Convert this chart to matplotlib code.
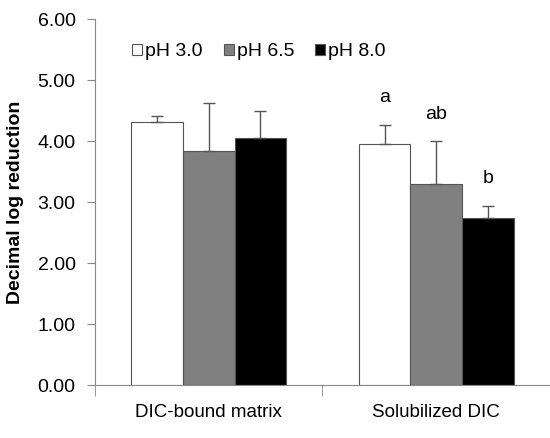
import numpy as np
import matplotlib.pyplot as plt

plt.rcParams['font.family'] = ['Liberation Sans', 'DejaVu Sans']

# datos
grupos = ['DIC-bound matrix', 'Solubilized DIC']
series = ['pH 3.0', 'pH 6.5', 'pH 8.0']
ph30 = [4.31, 3.95]
ph65 = [3.84, 3.30]
ph80 = [4.05, 2.74]
err30 = [0.10, 0.32]
err65 = [0.79, 0.70]
err80 = [0.45, 0.20]
letras = ['a', 'ab', 'b']

valores = [ph30, ph65, ph80]
errores = [err30, err65, err80]
colores = ['white', '#808080', 'black']

fig = plt.figure(figsize=(5.5, 4.38), dpi=100)
ax = fig.add_axes([0.1727, 0.121, 0.8273, 0.8356])

x = np.arange(len(grupos))
w = 0.227
for i in range(3):
    pos = x + (i - 1) * w
    ax.bar(pos, valores[i], w, color=colores[i], edgecolor='#555555',
           linewidth=0.8, label=series[i], zorder=2)
    ax.errorbar(pos, valores[i], yerr=[np.zeros(2), errores[i]], fmt='none',
                ecolor='#555555', elinewidth=1, capsize=4, capthick=1, zorder=3)

# letras de significancia sobre el segundo grupo
for i in range(3):
    top = valores[i][1] + errores[i][1]
    ax.text(1 + (i - 1) * w, top + 0.3, letras[i], ha='center', va='bottom', fontsize=14)

ax.set_xlim(-0.5, 1.5)
ax.set_ylim(0, 6)
ax.set_yticks(np.arange(0, 7, 1))
ax.set_yticklabels(['%.2f' % v for v in np.arange(0, 7, 1)], fontsize=14)
ax.set_xticks(x)
ax.set_xticklabels(grupos, fontsize=13.5)
ax.set_xticks([-0.5, 0.5, 1.5], minor=True)
ax.tick_params(axis='x', which='major', length=0, pad=14)
ax.tick_params(axis='x', which='minor', length=8, color='#888888')
ax.tick_params(axis='y', length=6, color='#888888', pad=8)
ax.set_ylabel('Decimal log reduction', fontsize=14, fontweight='bold', labelpad=10)

for s in ['top', 'right']:
    ax.spines[s].set_visible(False)
for s in ['left', 'bottom']:
    ax.spines[s].set_color('#888888')

ax.legend(loc='upper left', bbox_to_anchor=(0.065, 0.955), ncol=3, frameon=False,
          fontsize=14, handlelength=0.5, handleheight=0.5, handletextpad=0.15,
          columnspacing=1.1, borderaxespad=0)

fig.savefig('out.png', dpi=100)
